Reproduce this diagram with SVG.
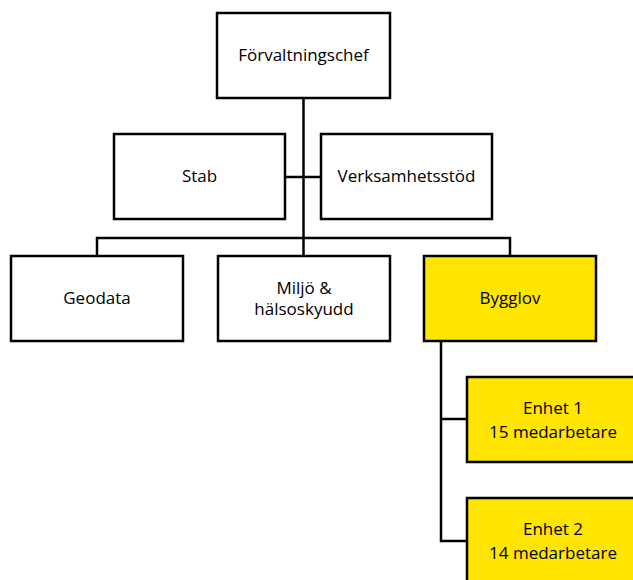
<svg xmlns="http://www.w3.org/2000/svg" width="633" height="580" viewBox="0 0 633 580">
<style>
.box{fill:#fff;stroke:#000;stroke-width:2.5}
.y{fill:#FFE500}
.c{fill:none;stroke:#000;stroke-width:2.5}
text{font-family:"Open Sans","Liberation Sans",sans-serif;font-size:17px;fill:#000;text-anchor:middle}
</style>
<rect width="633" height="580" fill="#fff"/>
<g id="connectors">
<path class="c" d="M303.5 98V256"/>
<path class="c" d="M285 177H321"/>
<path class="c" d="M97 256V238H510V256"/>
<path class="c" d="M441 341V541H467"/>
<path class="c" d="M441 419H467"/>
</g>
<g id="n1"><rect class="box" x="217" y="13" width="173" height="85"/><text x="303.5" y="61">Förvaltningschef</text></g>
<g id="n2"><rect class="box" x="114" y="134" width="171" height="85"/><text x="199.5" y="182">Stab</text></g>
<g id="n3"><rect class="box" x="321" y="134" width="171" height="85"/><text x="406.5" y="182">Verksamhetsstöd</text></g>
<g id="n4"><rect class="box" x="11" y="256" width="172" height="85"/><text x="97" y="304">Geodata</text></g>
<g id="n5"><rect class="box" x="218" y="256" width="172" height="85"/><text x="304" y="294">Miljö &amp;</text><text x="304" y="315">hälsoskyudd</text></g>
<g id="n6"><rect class="box y" x="424" y="256" width="172" height="85"/><text x="510" y="304">Bygglov</text></g>
<g id="n7"><rect class="box y" x="467" y="377" width="180" height="85"/><text x="553" y="414">Enhet 1</text><text x="553" y="438">15 medarbetare</text></g>
<g id="n8"><rect class="box y" x="467" y="498" width="180" height="95"/><text x="553" y="535">Enhet 2</text><text x="553" y="559">14 medarbetare</text></g>
</svg>
